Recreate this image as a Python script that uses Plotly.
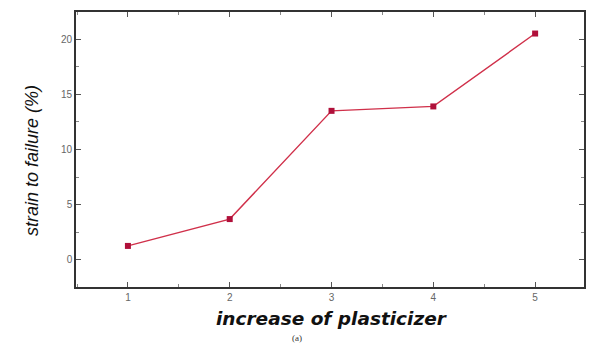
import plotly.graph_objects as go

x_vals = [1, 2, 3, 4, 5]
strain = [1.27, 3.7, 13.5, 13.9, 20.5]
y_ticks = [0, 5, 10, 15, 20]
x_ticks = [1, 2, 3, 4, 5]

fig = go.Figure()
fig.add_trace(go.Scatter(
    x=x_vals, y=strain, mode="lines+markers",
    line=dict(color="#d0304a", width=1.4),
    marker=dict(symbol="square", size=6, color="#b0103a"),
    showlegend=False,
))

axis_common = dict(
    showgrid=False, zeroline=False, showline=True, linecolor="#333333", linewidth=1.6,
    mirror="allticks", ticks="inside", ticklen=5, tickcolor="#555555", tickwidth=1,
    tickfont=dict(family="Liberation Sans, Arial", size=10, color="#666666"),
    automargin=False,
)
fig.update_xaxes(range=[0.49, 5.48], tickvals=x_ticks, ticktext=[str(v) for v in x_ticks],
                 minor=dict(dtick=0.5, tick0=0.5, ticks="inside", ticklen=3, tickcolor="#888888"),
                 **axis_common)
fig.update_yaxes(range=[-2.45, 22.45], tickvals=y_ticks, ticktext=[str(v) for v in y_ticks],
                 minor=dict(dtick=2.5, tick0=0, ticks="inside", ticklen=3, tickcolor="#888888"),
                 **axis_common)

L, R, T, B = 76, 9, 12, 57
W, H = 593 - L - R, 344 - T - B
bottom_px = 344 - B

fig.add_annotation(text="<b><i>increase of plasticizer</i></b>",
                   xref="paper", x=(332 - L) / W, yref="paper", y=-(318 - bottom_px) / H,
                   showarrow=False, font=dict(family="DejaVu Sans", size=18.5, color="#111111"),
                   xanchor="center", yanchor="middle", borderpad=0)
fig.add_annotation(text="<i>strain to failure (%)</i>",
                   xref="paper", x=-(L - 32) / W, yref="paper", y=(bottom_px - 161) / H,
                   showarrow=False, textangle=-90,
                   font=dict(family="Liberation Sans, Arial", size=18, color="#111111"),
                   xanchor="center", yanchor="middle")
fig.add_annotation(text="(a)",
                   xref="paper", x=(297 - L) / W, yref="paper", y=-(332 - bottom_px) / H,
                   showarrow=False, font=dict(family="Liberation Serif", size=9, color="#333333"),
                   xanchor="center", yanchor="top", borderpad=0)

fig.update_layout(
    width=593, height=344,
    margin=dict(l=L, r=R, t=T, b=B),
    plot_bgcolor="white", paper_bgcolor="white",
)

fig.write_html("out.html", config={"displayModeBar": False},
               post_script="document.body.style.margin='0';document.body.style.overflow='hidden';")
